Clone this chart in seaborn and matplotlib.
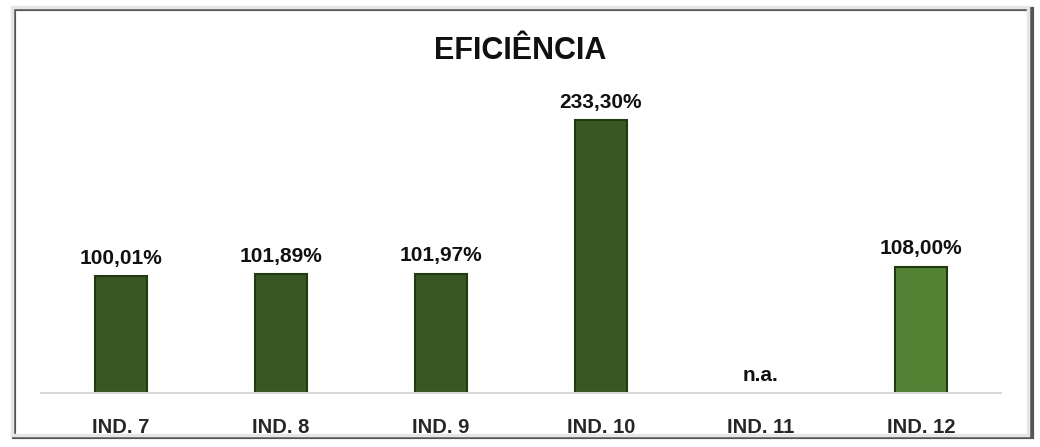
import numpy as np
import pandas as pd
import matplotlib.pyplot as plt
from matplotlib.patches import Rectangle
import seaborn as sns

categorias = ['IND. 7', 'IND. 8', 'IND. 9', 'IND. 10', 'IND. 11', 'IND. 12']
eficiencia = [100.01, 101.89, 101.97, 233.30, np.nan, 108.00]
rotulos = ['100,01%', '101,89%', '101,97%', '233,30%', 'n.a.', '108,00%']
cores = ['#385723', '#385723', '#385723', '#385723', '#385723', '#548235']

sns.set_theme(style='white')
plt.rcParams['font.family'] = ['Liberation Sans Narrow', 'Liberation Sans', 'DejaVu Sans']

df = pd.DataFrame({'ind': categorias, 'valor': eficiencia})

fig = plt.figure(figsize=(10.4, 4.47), dpi=100)
ax = fig.add_axes([41/1040, 54/447, 960/1040, 293/447])

sns.barplot(data=df, x='ind', y='valor', hue='ind', palette=cores, legend=False,
            width=0.33, ax=ax, edgecolor='#22380f', linewidth=1.5, saturation=1)

ax.set_xlim(-0.5, 5.5)
ax.set_ylim(0, 250.4)
ax.set_yticks([])
ax.set_xlabel('')
ax.set_ylabel('')
for s in ['top', 'right', 'left']:
    ax.spines[s].set_visible(False)
ax.spines['bottom'].set_color('#d9d9d9')
ax.spines['bottom'].set_linewidth(1.5)
ax.tick_params(axis='x', length=0, pad=18, labelsize=14.5)
for lbl in ax.get_xticklabels():
    lbl.set_fontweight('bold')

for i, (v, r) in enumerate(zip(eficiencia, rotulos)):
    y = 0 if np.isnan(v) else v
    ax.text(i, y + 7, r, ha='center', va='bottom', fontsize=15, fontweight='bold', color='#111111')

fig.text(0.5, 0.885, 'EFICIÊNCIA', ha='center', va='center', fontsize=22, fontweight='bold', color='#111111')

# moldura com sombra
fig.patches.append(Rectangle((14/1040, 10/447), 1018/1040, 428/447, transform=fig.transFigure,
                             fill=False, edgecolor='#555555', linewidth=3))
fig.patches.append(Rectangle((12/1040, 12/447), 1016/1040, 428/447, transform=fig.transFigure,
                             fill=False, edgecolor='#e6e6e6', linewidth=2.5))

fig.savefig('out.png', dpi=100)
